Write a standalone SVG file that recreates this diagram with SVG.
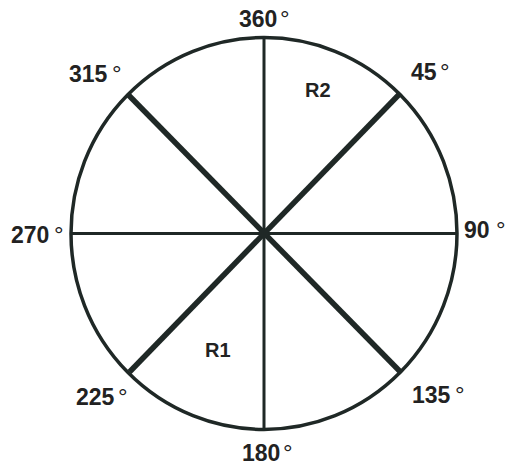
<svg xmlns="http://www.w3.org/2000/svg" width="515" height="467" viewBox="0 0 515 467">
  <style>
    .ln { stroke: #1f2826; fill: none; stroke-linecap: butt; }
    .axis { stroke-width: 3; }
    .diag { stroke-width: 5.5; }
    .lbl { font-family: "Liberation Sans", Arial, sans-serif; font-size: 23px; font-weight: bold; fill: #222222; }
    .deg { font-size: 24px; font-weight: normal; }
    .reg { font-family: "Liberation Sans", Arial, sans-serif; font-size: 20px; font-weight: bold; fill: #222222; }
  </style>
  <rect width="515" height="467" fill="#ffffff"/>
  <g id="circle">
    <ellipse class="ln" cx="264" cy="233.5" rx="193" ry="196" stroke-width="3.5"/>
  </g>
  <g id="connectors">
    <line class="ln axis" x1="264" y1="37.5" x2="264" y2="429.5"/>
    <line class="ln axis" x1="71" y1="233.5" x2="457" y2="233.5"/>
    <line class="ln diag" x1="127.5" y1="94" x2="401.5" y2="373"/>
    <line class="ln diag" x1="400.5" y1="93" x2="129.5" y2="372"/>
    <circle cx="264" cy="233.5" r="5" fill="#1f2826"/>
  </g>
  <g id="labels">
    <text class="lbl" x="239" y="27">360<tspan class="deg" x="280">°</tspan></text>
    <text class="lbl" x="11" y="243">270<tspan class="deg" x="54">°</tspan></text>
    <text class="lbl" x="464" y="238">90<tspan class="deg" x="496">°</tspan></text>
    <text class="lbl" x="242" y="461">180<tspan class="deg" x="283">°</tspan></text>
    <text class="lbl" x="69" y="82">315<tspan class="deg" x="112">°</tspan></text>
    <text class="lbl" x="411" y="80">45<tspan class="deg" x="440">°</tspan></text>
    <text class="lbl" x="76" y="405">225<tspan class="deg" x="118">°</tspan></text>
    <text class="lbl" x="412" y="403">135<tspan class="deg" x="455">°</tspan></text>
  </g>
  <g id="R2"><text class="reg" x="305" y="97">R2</text></g>
  <g id="R1"><text class="reg" x="205" y="357">R1</text></g>
</svg>
